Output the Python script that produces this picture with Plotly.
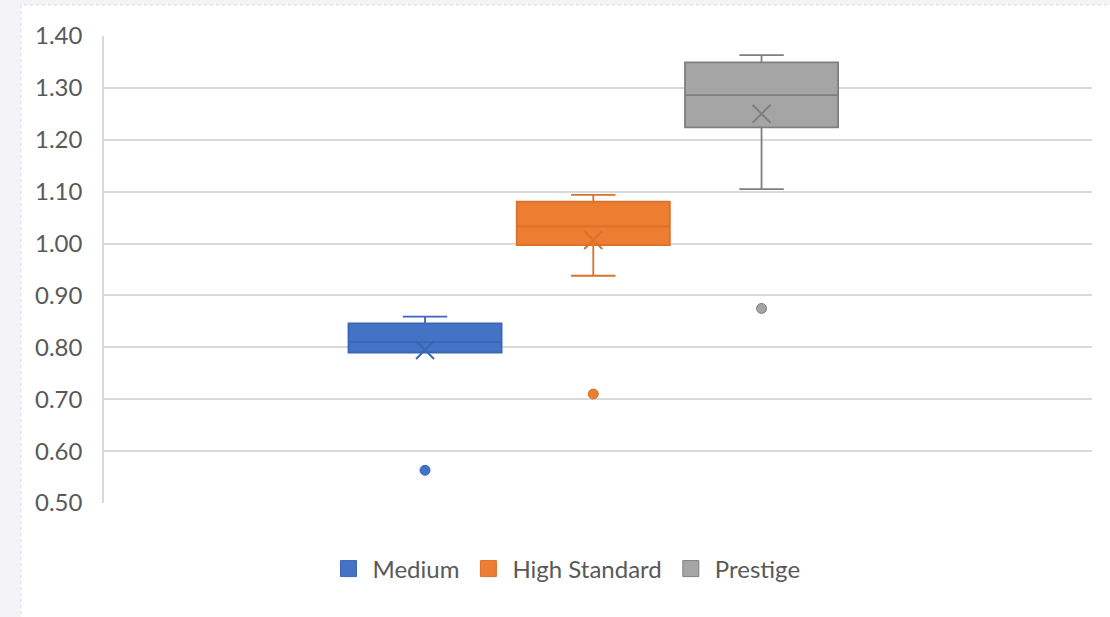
import plotly.graph_objects as go

# ---- data ----
categories = ["Medium", "High Standard", "Prestige"]
lower_whisker = [0.790, 0.938, 1.105]
q1 = [0.790, 0.997, 1.224]
median = [0.810, 1.033, 1.286]
q3 = [0.846, 1.081, 1.349]
upper_whisker = [0.859, 1.094, 1.363]
means = [0.795, 1.007, 1.250]
outliers = [0.563, 0.710, 0.875]

y_ticks = [0.50, 0.60, 0.70, 0.80, 0.90, 1.00, 1.10, 1.20, 1.30, 1.40]

fill_colors = ["#4472C4", "#ED7D31", "#A5A5A5"]
line_colors = ["#3A66B5", "#D9712A", "#7F7F7F"]

FONT = "Lato"
TXT = "#595959"

fig = go.Figure()

for i, cat in enumerate(categories):
    fig.add_trace(go.Box(
        x=[cat], q1=[q1[i]], median=[median[i]], q3=[q3[i]],
        lowerfence=[lower_whisker[i]], upperfence=[upper_whisker[i]],
        name=cat, fillcolor=fill_colors[i],
        line=dict(color=line_colors[i], width=1.8),
        width=0.91, whiskerwidth=0.29, boxpoints=False,
        showlegend=False, hoverinfo="skip",
    ))
    fig.add_trace(go.Scatter(
        x=[cat], y=[means[i]], mode="markers", showlegend=False,
        marker=dict(symbol="x-thin", size=18,
                    line=dict(color=line_colors[i], width=2)),
        hoverinfo="skip",
    ))
    fig.add_trace(go.Scatter(
        x=[cat], y=[outliers[i]], mode="markers", showlegend=False,
        marker=dict(symbol="circle", size=10, color=fill_colors[i],
                    line=dict(color=line_colors[i], width=1)),
        hoverinfo="skip",
    ))

# legend entries (square swatches)
for i, cat in enumerate(categories):
    fig.add_trace(go.Scatter(
        x=[None], y=[None], mode="markers", name=cat,
        marker=dict(symbol="square", size=16, color=fill_colors[i],
                    line=dict(color=line_colors[i], width=1)),
    ))

W, H = 1110, 617
L, R, T, B = 104, 18, 36, 114
pw, ph = W - L - R, H - T - B

def px_to_paper_x(px):
    return (px - L) / pw

def px_to_paper_y(py):
    return (H - B - py) / ph

fig.add_shape(
    type="rect", xref="paper", yref="paper", layer="below",
    x0=px_to_paper_x(21), x1=px_to_paper_x(1112),
    y0=px_to_paper_y(619), y1=px_to_paper_y(5),
    fillcolor="white", line=dict(color="#dcdcdc", width=1, dash="dot"),
)

fig.update_layout(
    width=W, height=H,
    margin=dict(l=L, r=R, t=T, b=B, pad=0),
    paper_bgcolor="#F3F3F8",
    plot_bgcolor="rgba(0,0,0,0)",
    font=dict(family=FONT, size=24, color=TXT),
    showlegend=True,
    legend=dict(
        orientation="h", x=px_to_paper_x(565), xanchor="center",
        y=px_to_paper_y(569), yanchor="middle",
        font=dict(family=FONT, size=24, color=TXT),
        bgcolor="rgba(0,0,0,0)", itemwidth=38,
    ),
    xaxis=dict(
        type="category", categoryorder="array", categoryarray=categories,
        range=[-1.908, 3.964], showticklabels=False, showgrid=False,
        zeroline=False, showline=False, ticks="",
    ),
    yaxis=dict(
        range=[0.5, 1.4], tickvals=y_ticks, tickformat=".2f",
        showgrid=True, gridcolor="#D9D9D9", gridwidth=1.5,
        zeroline=False, showline=True, linecolor="#D9D9D9", linewidth=1.5,
        ticks="", ticklabelstandoff=15,
        tickfont=dict(family=FONT, size=24, color=TXT),
    ),
)

fig.write_html("out.html",
               config={"displayModeBar": False},
               post_script="document.body.style.margin='0px';document.body.style.overflow='hidden';")
